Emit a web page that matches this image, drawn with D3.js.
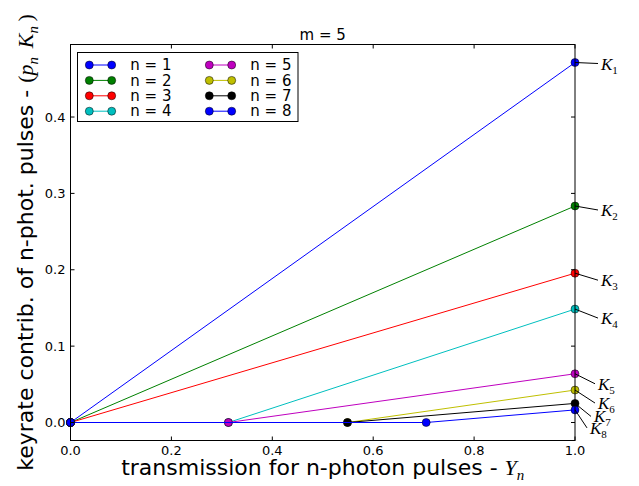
<!DOCTYPE html>
<html>
<head>
<meta charset="utf-8">
<script src="https://cdn.jsdelivr.net/npm/d3@7"></script>
<style>
  body { margin: 0; background: #fff; }
  text { font-family: "DejaVu Sans", sans-serif; }
  .math { font-family: "Liberation Serif", "DejaVu Serif", serif; }
</style>
</head>
<body>
<svg id="chart" width="639" height="486"></svg>
<script>
// photon numbers, thresholds where each contribution starts, and keyrate at Y_n = 1
var photonNumbers = [1, 2, 3, 4, 5, 6, 7, 8];
var thresholds = [0, 0, 0, 0.313, 0.313, 0.549, 0.549, 0.705];
var keyrates = [0.4714, 0.2835, 0.1955, 0.1485, 0.0638, 0.0425, 0.025, 0.0165];
var colors = ['#0000ff', '#008000', '#ff0000', '#00bfbf', '#bf00bf', '#bfbf00', '#000000', '#0000ff'];
var xTicks = [0, 0.2, 0.4, 0.6, 0.8, 1.0];
var yTicks = [0, 0.1, 0.2, 0.3, 0.4];
// annotation text offsets (px) from the end point
var labelDx = [26, 26, 26, 26, 23, 23, 19, 15];
var labelDy = [1, 4, 7, 9, 10, 13, 13, 18];

var svg = d3.select('#chart');
var plotLeft = 70.5, plotRight = 575, plotTop = 44.5, plotBottom = 440.5;

var yMax = d3.max(keyrates);
var x = d3.scaleLinear().domain([0, 1]).range([plotLeft, plotRight]);
var y = d3.scaleLinear().domain([-0.05 * yMax, 1.05 * yMax]).range([plotBottom, plotTop]);

var series = photonNumbers.map(function(n, i) {
    var pts = [[0, 0]];
    if (thresholds[i] > 0) {
        pts.push([thresholds[i], 0]);
    }
    pts.push([1, keyrates[i]]);
    return { n: n, color: colors[i], points: pts };
});

var line = d3.line().x(d => x(d[0])).y(d => y(d[1]));

var plot = svg.append('g');

series.forEach(function(s) {
    plot.append('path')
        .attr('d', line(s.points))
        .attr('fill', 'none')
        .attr('stroke', s.color)
        .attr('stroke-width', 1);
    plot.selectAll(null)
        .data(s.points)
        .join('circle')
        .attr('cx', d => x(d[0]))
        .attr('cy', d => y(d[1]))
        .attr('r', 4)
        .attr('fill', s.color)
        .attr('stroke', '#000')
        .attr('stroke-width', 0.5);
});

// frame
svg.append('rect')
    .attr('x', plotLeft).attr('y', plotTop)
    .attr('width', plotRight - plotLeft).attr('height', plotBottom - plotTop)
    .attr('fill', 'none').attr('stroke', '#000').attr('stroke-width', 1);

// ticks, inside on all four sides
var tickLen = 4;
xTicks.forEach(function(t) {
    svg.append('line').attr('x1', x(t)).attr('x2', x(t)).attr('y1', plotBottom).attr('y2', plotBottom - tickLen).attr('stroke', '#000');
    svg.append('line').attr('x1', x(t)).attr('x2', x(t)).attr('y1', plotTop).attr('y2', plotTop + tickLen).attr('stroke', '#000');
    svg.append('text')
        .attr('x', x(t)).attr('y', plotBottom + 14)
        .attr('text-anchor', 'middle')
        .attr('font-size', 13)
        .text(d3.format('.1f')(t));
});
yTicks.forEach(function(t) {
    svg.append('line').attr('x1', plotLeft).attr('x2', plotLeft + tickLen).attr('y1', y(t)).attr('y2', y(t)).attr('stroke', '#000');
    svg.append('line').attr('x1', plotRight).attr('x2', plotRight - tickLen).attr('y1', y(t)).attr('y2', y(t)).attr('stroke', '#000');
    svg.append('text')
        .attr('x', plotLeft - 5).attr('y', y(t))
        .attr('dy', '0.35em')
        .attr('text-anchor', 'end')
        .attr('font-size', 13)
        .text(d3.format('.1f')(t));
});

// K_n annotations
series.forEach(function(s, i) {
    var px = x(1), py = y(keyrates[i]);
    var tx = px + labelDx[i], ty = py + labelDy[i];
    svg.append('line')
        .attr('x1', px).attr('y1', py)
        .attr('x2', tx - 3).attr('y2', ty)
        .attr('stroke', '#000').attr('stroke-width', 1);
    var t = svg.append('text')
        .attr('class', 'math')
        .attr('x', tx).attr('y', ty + 6)
        .attr('font-size', 17);
    t.append('tspan').attr('font-style', 'italic').text('K');
    t.append('tspan').attr('font-size', 11).attr('dy', 4).text(s.n);
});

// title
svg.append('text')
    .attr('x', (plotLeft + plotRight) / 2).attr('y', 40)
    .attr('text-anchor', 'middle')
    .attr('font-size', 15)
    .text('m = 5');

// x label
var xl = svg.append('text')
    .attr('x', (plotLeft + plotRight) / 2).attr('y', 475)
    .attr('text-anchor', 'middle')
    .attr('font-size', 22);
xl.append('tspan').text('transmission for n-photon pulses - ');
xl.append('tspan').attr('class', 'math').attr('font-style', 'italic').text('Y');
xl.append('tspan').attr('class', 'math').attr('font-style', 'italic').attr('font-size', 15).attr('dy', 5).text('n');

// y label
var yl = svg.append('text')
    .attr('transform', 'translate(33,' + ((plotTop + plotBottom) / 2) + ') rotate(-90)')
    .attr('text-anchor', 'middle')
    .attr('font-size', 22);
yl.append('tspan').text('keyrate contrib. of n-phot. pulses - ');
yl.append('tspan').attr('class', 'math').text('(');
yl.append('tspan').attr('class', 'math').attr('font-style', 'italic').text('p');
yl.append('tspan').attr('class', 'math').attr('font-style', 'italic').attr('font-size', 15).attr('dy', 5).text('n');
yl.append('tspan').attr('class', 'math').attr('dy', -5).text('\u2009\u2009');
yl.append('tspan').attr('class', 'math').attr('font-style', 'italic').text('K');
yl.append('tspan').attr('class', 'math').attr('font-style', 'italic').attr('font-size', 15).attr('dy', 5).text('n');
yl.append('tspan').attr('class', 'math').attr('dy', -5).text('\u2009)');

// legend
var legend = svg.append('g');
legend.append('rect')
    .attr('x', 77.5).attr('y', 52.5)
    .attr('width', 220.5).attr('height', 69)
    .attr('fill', '#fff').attr('stroke', '#000').attr('stroke-width', 1);
series.forEach(function(s, i) {
    var col = Math.floor(i / 4), row = i % 4;
    var lx = 89.3 + col * 120, ly = 65 + row * 15.4;
    legend.append('line')
        .attr('x1', lx).attr('x2', lx + 22.4).attr('y1', ly).attr('y2', ly)
        .attr('stroke', s.color).attr('stroke-width', 1);
    [lx, lx + 22.4].forEach(function(cx) {
        legend.append('circle')
            .attr('cx', cx).attr('cy', ly).attr('r', 4)
            .attr('fill', s.color).attr('stroke', '#000').attr('stroke-width', 0.5);
    });
    legend.append('text')
        .attr('x', lx + 41).attr('y', ly)
        .attr('dy', '0.35em')
        .attr('font-size', 15)
        .text('n = ' + s.n);
});
</script>
</body>
</html>
